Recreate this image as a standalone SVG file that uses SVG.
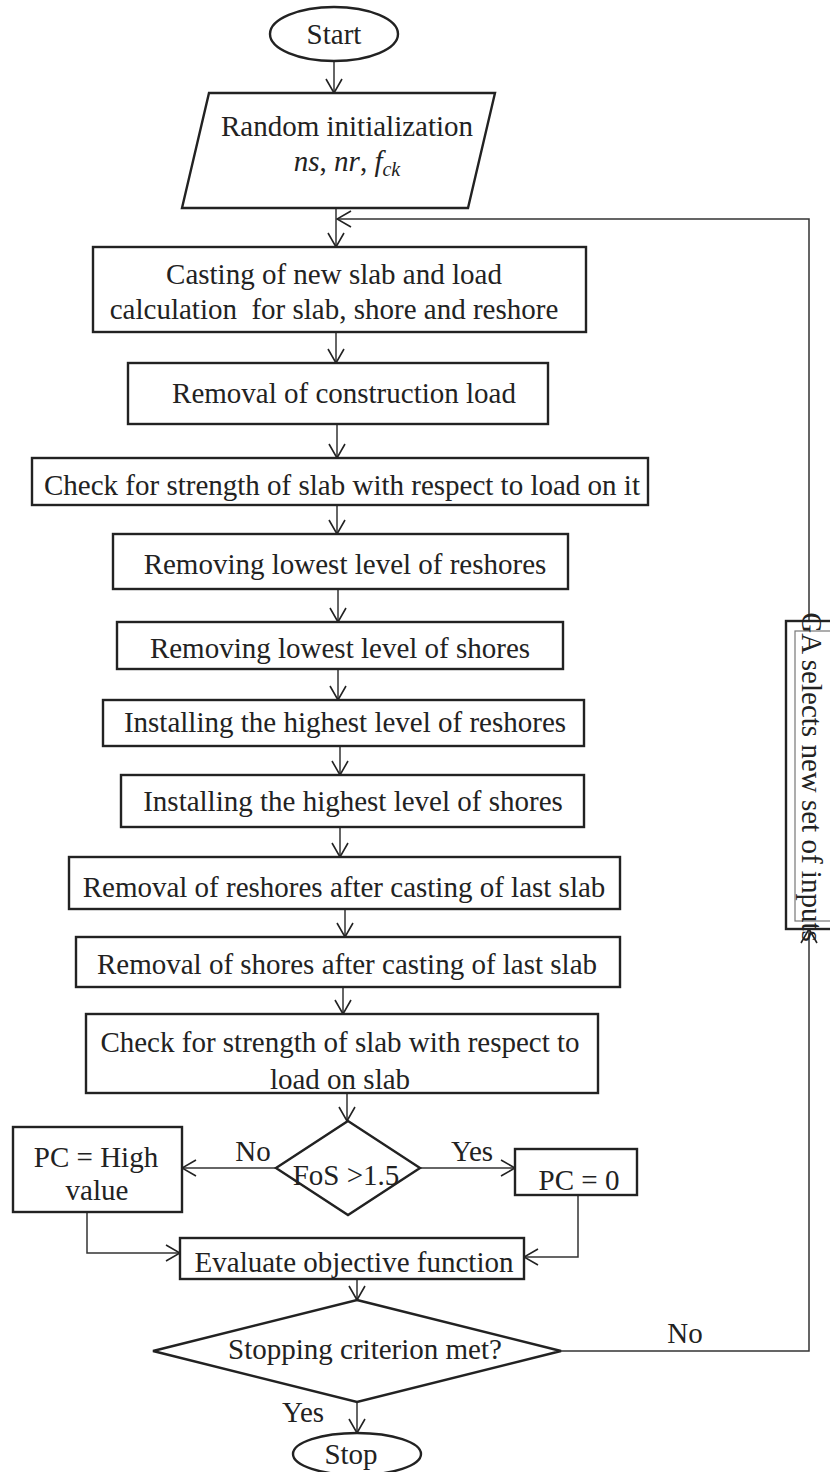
<svg xmlns="http://www.w3.org/2000/svg" width="830" height="1472" viewBox="0 0 830 1472">
<defs>
<marker id="arr" viewBox="0 0 16 18" refX="15" refY="9" markerWidth="16" markerHeight="18" markerUnits="userSpaceOnUse" orient="auto">
<path d="M1,1 L15,9 L1,17" fill="none" stroke="#222" stroke-width="1.6"/>
</marker>
<style>
.box{fill:#fff;stroke:#222;stroke-width:2.4}
.inner{fill:none;stroke:#777;stroke-width:1.2}
.t{font-family:"Liberation Serif","Times New Roman",serif;font-size:29px;fill:#222;text-anchor:middle}
.c{fill:none;stroke:#333;stroke-width:1.5}
</style>
</defs>

<g id="connectors">
<path class="c" d="M334,62 V93" marker-end="url(#arr)"/>
<path class="c" d="M336,208 V247" marker-end="url(#arr)"/>
<path class="c" d="M809,621 V219 H337" marker-end="url(#arr)"/>
<path class="c" d="M336,332 V363" marker-end="url(#arr)"/>
<path class="c" d="M337,424 V458" marker-end="url(#arr)"/>
<path class="c" d="M337,505 V534" marker-end="url(#arr)"/>
<path class="c" d="M338,589 V622" marker-end="url(#arr)"/>
<path class="c" d="M338,669 V700" marker-end="url(#arr)"/>
<path class="c" d="M340,746 V775" marker-end="url(#arr)"/>
<path class="c" d="M340,827 V857" marker-end="url(#arr)"/>
<path class="c" d="M345,909 V937" marker-end="url(#arr)"/>
<path class="c" d="M343,987 V1014" marker-end="url(#arr)"/>
<path class="c" d="M347,1093 V1121" marker-end="url(#arr)"/>
<path class="c" d="M276,1168 H182" marker-end="url(#arr)"/>
<path class="c" d="M420,1168 H515" marker-end="url(#arr)"/>
<path class="c" d="M87,1212 V1253 H180" marker-end="url(#arr)"/>
<path class="c" d="M578,1195 V1257 H524" marker-end="url(#arr)"/>
<path class="c" d="M357,1279 V1300" marker-end="url(#arr)"/>
<path class="c" d="M561,1351 H809 V929" marker-end="url(#arr)"/>
<path class="c" d="M357,1402 V1433" marker-end="url(#arr)"/>
<text class="t" x="253" y="1161">No</text>
<text class="t" x="472" y="1161">Yes</text>
<text class="t" x="685" y="1343">No</text>
<text class="t" x="303" y="1422">Yes</text>
</g>

<g id="start">
<ellipse class="box" cx="334" cy="34" rx="64" ry="27"/>
<text class="t" x="334" y="44">Start</text>
</g>

<g id="init">
<polygon class="box" points="209,93 495,93 468,208 182,208"/>
<text class="t" x="347" y="136">Random initialization</text>
<text class="t" x="347" y="171"><tspan font-style="italic">ns</tspan>, <tspan font-style="italic">nr</tspan>, <tspan font-style="italic">f</tspan><tspan font-style="italic" font-size="20" dy="5">ck</tspan></text>
</g>

<g id="casting">
<rect class="box" x="93" y="247" width="493" height="85"/>
<text class="t" x="334" y="284">Casting of new slab and load</text>
<text class="t" x="334" y="319" xml:space="preserve">calculation  for slab, shore and reshore</text>
</g>

<g id="removal-construction">
<rect class="box" x="128" y="363" width="420" height="61"/>
<text class="t" x="344" y="403">Removal of construction load</text>
</g>

<g id="check1">
<rect class="box" x="32" y="458" width="616" height="47"/>
<text class="t" x="342" y="495">Check for strength of slab with respect to load on it</text>
</g>

<g id="remove-reshores">
<rect class="box" x="113" y="534" width="455" height="55"/>
<text class="t" x="345" y="574">Removing lowest level of reshores</text>
</g>

<g id="remove-shores">
<rect class="box" x="117" y="622" width="446" height="47"/>
<text class="t" x="340" y="658">Removing lowest level of shores</text>
</g>

<g id="install-reshores">
<rect class="box" x="103" y="700" width="481" height="46"/>
<text class="t" x="345" y="732">Installing the highest level of reshores</text>
</g>

<g id="install-shores">
<rect class="box" x="121" y="775" width="463" height="52"/>
<text class="t" x="353" y="811">Installing the highest level of shores</text>
</g>

<g id="removal-reshores-last">
<rect class="box" x="69" y="857" width="551" height="52"/>
<text class="t" x="344" y="897">Removal of reshores after casting of last slab</text>
</g>

<g id="removal-shores-last">
<rect class="box" x="76" y="937" width="544" height="50"/>
<text class="t" x="347" y="974">Removal of shores after casting of last slab</text>
</g>

<g id="check2">
<rect class="box" x="86" y="1014" width="512" height="79"/>
<text class="t" x="340" y="1052">Check for strength of slab with respect to</text>
<text class="t" x="340" y="1089">load on slab</text>
</g>

<g id="fos">
<polygon class="box" points="348,1121 420,1168 348,1215 276,1168"/>
<text class="t" x="346" y="1185">FoS &gt;1.5</text>
</g>

<g id="pc-high">
<rect class="box" x="13" y="1127" width="169" height="85"/>
<text class="t" x="96" y="1167">PC = High</text>
<text class="t" x="97" y="1200">value</text>
</g>

<g id="pc-zero">
<rect class="box" x="515" y="1149" width="122" height="46"/>
<text class="t" x="579" y="1190">PC = 0</text>
</g>

<g id="evaluate">
<rect class="box" x="180" y="1238" width="344" height="41"/>
<text class="t" x="354" y="1272">Evaluate objective function</text>
</g>

<g id="stopping">
<polygon class="box" points="357,1300 561,1351 357,1402 153,1351"/>
<text class="t" x="365" y="1359">Stopping criterion met?</text>
</g>

<g id="stop">
<ellipse class="box" cx="357" cy="1454" rx="64" ry="21"/>
<text class="t" x="351" y="1464">Stop</text>
</g>

<g id="ga">
<rect class="box" x="786" y="621" width="60" height="308"/>
<rect class="inner" x="795" y="631" width="60" height="290"/>
<text class="t" transform="translate(802,777) rotate(90)" x="0" y="0">GA selects new set of inputs</text>
</g>
</svg>
